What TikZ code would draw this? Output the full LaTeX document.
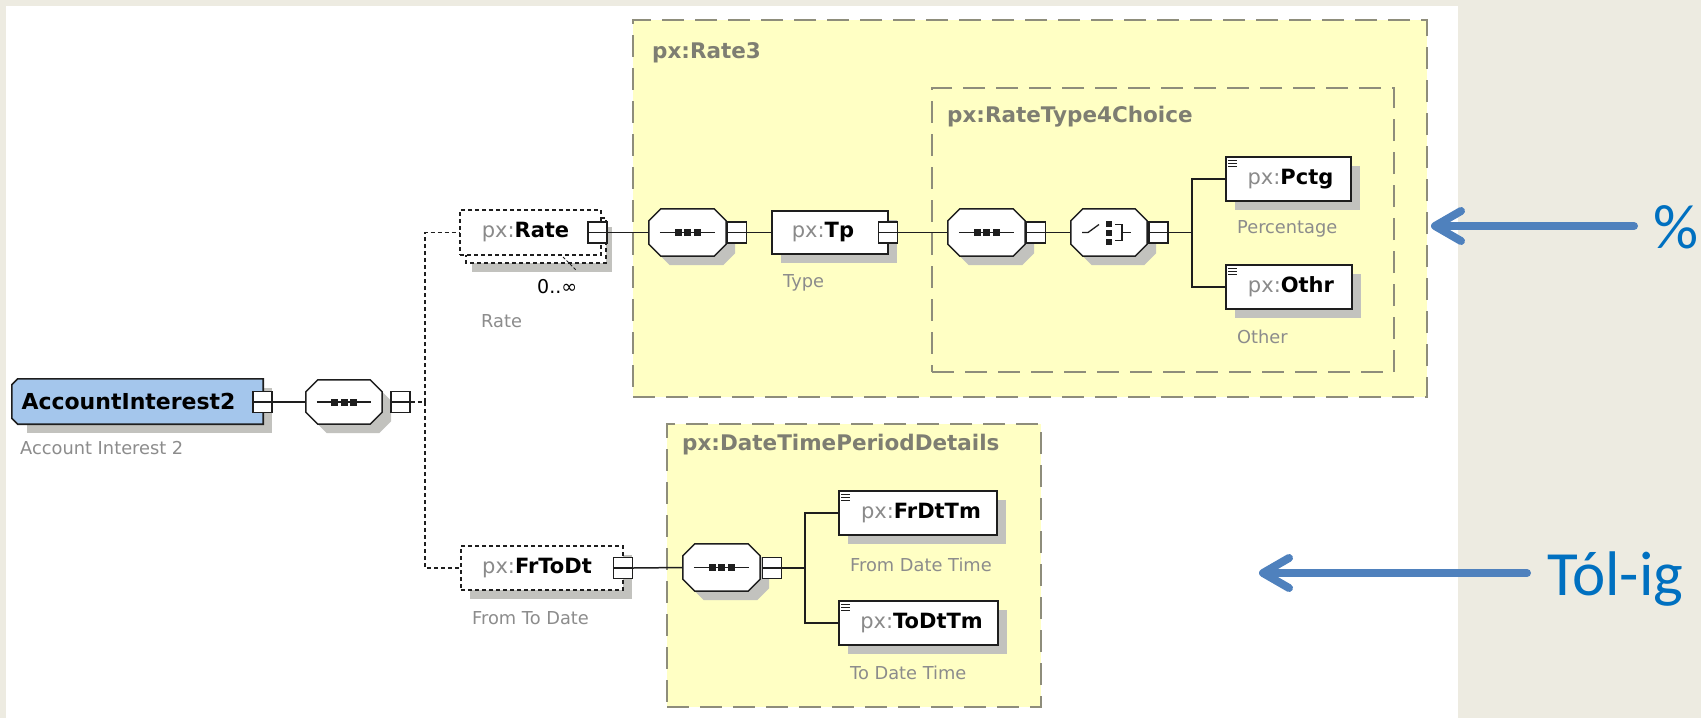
\documentclass[tikz,border=0pt]{standalone}
\usepackage{fontspec}
\setmainfont{DejaVu Sans}
\newfontfamily\calib{Carlito}
\usetikzlibrary{fit,shadows,arrows.meta,calc}
\pgfdeclarelayer{lzero}
\pgfdeclarelayer{lone}
\pgfdeclarelayer{ltwo}
\pgfsetlayers{lzero,lone,ltwo,main}

\definecolor{cbeige}{HTML}{EDEBE1}
\definecolor{cyell}{HTML}{FFFFC4}
\definecolor{cdash}{HTML}{8E8D7B}
\definecolor{clbl}{HTML}{8C8C8C}
\definecolor{cpx}{HTML}{8A8A8A}
\definecolor{ctit}{HTML}{7E7E72}
\definecolor{caiblue}{HTML}{A4C6EC}
\definecolor{carrow}{HTML}{4F81BD}
\definecolor{ctext}{HTML}{0070C0}
\definecolor{cshadow}{HTML}{C2C2BE}
\definecolor{cline}{HTML}{1E1E1E}

\newcommand\pxn[1]{{\mdseries\color{cpx}px:}#1}
\newcommand\octp[3]{([shift={(#2+12pt,#3)}]#1.north west) -- ([shift={(#2-12pt,#3)}]#1.north east) -- ([shift={(#2,#3-12pt)}]#1.north east) -- ([shift={(#2,#3+12pt)}]#1.south east) -- ([shift={(#2-12pt,#3)}]#1.south east) -- ([shift={(#2+12pt,#3)}]#1.south west) -- ([shift={(#2,#3+12pt)}]#1.south west) -- ([shift={(#2,#3-12pt)}]#1.north west) -- cycle}
\newcommand\octshape[1]{%
  \begin{pgfonlayer}{lone}\fill[cshadow] \octp{#1}{9pt}{-9pt};\end{pgfonlayer}%
  \begin{pgfonlayer}{ltwo}\filldraw[fill=white, draw=cline, line width=1.5pt] \octp{#1}{0pt}{0pt};\end{pgfonlayer}}
\newcommand\seqsym[1]{%
  \draw[line width=1.3pt, cline] ([xshift=11pt]#1.west) -- ([xshift=-11pt]#1.east);
  \foreach \d in {-9.5,0,9.5}{\fill[cline] ($(#1.center)+(\d-3.5,-3.5)$) rectangle ++(7,7);}}
\newcommand\chsym[1]{%
  \draw[line width=1.3pt, cline] ($(#1.center)+(-27,0)$) -- ++(6,0) -- ++(11,-8);
  \foreach \d in {-9,0,9}{\fill[cline] ($(#1.center)+(-3,\d-3)$) rectangle ++(6,6);}
  \draw[line width=1.3pt, cline] ($(#1.center)+(6,-8)$) -- ++(7,0) -- ++(0,16) -- ++(-7,0);
  \draw[line width=1.3pt, cline] ($(#1.center)+(13,0)$) -- ++(9,0);}
\newcommand\eicon[1]{%
  \foreach \d in {4,7,10}{\draw[line width=0.9pt, cline] ($(#1.north west)+(3,\d)$) -- ++(9,0);}}

\tikzset{
  container/.style={draw=cdash, fill=cyell, line width=1.6pt, dash pattern=on 22pt off 11pt, inner sep=0pt},
  ctitle/.style={anchor=west, inner sep=0pt, font=\fontsize{21.5}{25}\selectfont\bfseries, text=ctit},
  boxbase/.style={draw=cline, fill=white, line width=1.6pt, inner sep=0pt,
    font=\fontsize{21}{25}\selectfont\bfseries},
  shad/.style={general shadow={shadow xshift=9pt, shadow yshift=-9pt, fill=cshadow}},
  elem/.style={boxbase, shad},
  optelem/.style={elem, dash pattern=on 4pt off 3pt, line width=1.4pt},
  octnode/.style={inner sep=0pt, draw=none},
  minus/.style={draw=cline, fill=white, line width=1.2pt, minimum width=19pt, minimum height=21pt, inner sep=0pt,
    path picture={\draw[line width=1.2pt, cline] (path picture bounding box.west) -- (path picture bounding box.east);}},
  lbl/.style={anchor=west, inner sep=0pt, text=clbl, font=\fontsize{17.8}{21}\selectfont},
  conn/.style={draw=cline, line width=1.5pt},
  optconn/.style={draw=cline, line width=1.5pt, dash pattern=on 4pt off 3pt},
  bigarrow/.style={draw=carrow, line width=8pt, line cap=round,
    -{Straight Barb[length=26pt, width=30pt, round]}},
  bigtext/.style={inner sep=0pt, text=ctext, font=\calib\fontsize{63}{70}\selectfont}
}

\begin{document}
\begin{tikzpicture}[x=1pt,y=-1pt]
\useasboundingbox (0,0) rectangle (1701,718);

\begin{pgfonlayer}{lzero}
  \fill[cbeige] (0,0) rectangle (1701,718);
  \fill[white] (6,6) rectangle (1458,718);
  \node[container, fit={(633,20)(1427,397)}] (rate3) {};
  \node[container, fit={(932,88)(1394,372)}] (rtc) {};
  \node[container, fit={(667,424)(1041,707)}] (dtpd) {};
\end{pgfonlayer}
\node[ctitle] (trate3) at (652,53) {px:Rate3};
\node[ctitle] (trtc) at (947,117) {px:RateType4Choice};
\node[ctitle] (tdtpd) at (682,445) {px:DateTimePeriodDetails};

% root element
\node[inner sep=0pt, minimum width=251pt, minimum height=45pt, text width=232pt, align=left,
      font=\fontsize{22}{26}\selectfont\bfseries] (ai) at (137.5,401.5) {AccountInterest2};
\begin{pgfonlayer}{lone}
  \fill[cshadow] ([shift={(15pt,-9pt)}]ai.north west) -- ([shift={(9pt,-9pt)}]ai.north east) -- ([shift={(9pt,-9pt)}]ai.south east) -- ([shift={(15pt,-9pt)}]ai.south west) -- cycle;
\end{pgfonlayer}
\begin{pgfonlayer}{ltwo}
  \filldraw[fill=caiblue, draw=cline, line width=1.6pt] ([xshift=6pt]ai.north west) -- (ai.north east) -- (ai.south east) -- ([xshift=6pt]ai.south west) -- ([yshift=6pt]ai.south west) -- ([yshift=-6pt]ai.north west) -- cycle;
\end{pgfonlayer}
\node[minus] (aim) at (262.5,402) {};
\node[lbl] (lai) at (20,448) {Account Interest 2};

\node[octnode, fit={(306,380)(382,424)}] (s1) {};
\octshape{s1}\seqsym{s1}
\node[minus] (s1m) at (400.5,402) {};
\coordinate (jn) at (425,402);

% Rate (repeating, optional)
\begin{pgfonlayer}{ltwo}
  \draw[fill=white, draw=cline, line width=1.4pt, dash pattern=on 4pt off 3pt,
        general shadow={shadow xshift=6pt, shadow yshift=-9pt, fill=cshadow}] (466,218) rectangle (606,263);
\end{pgfonlayer}
\node[boxbase, dash pattern=on 4pt off 3pt, line width=1.4pt, minimum width=141pt, minimum height=45pt] (rate) at (530.5,232.5) {\pxn{Rate}\hspace*{10pt}};
\node[minus] (ratem) at (597.5,232.5) {};
\node[inner sep=0pt, anchor=west, font=\fontsize{19}{22}\selectfont] (occ) at (537,287) {0..∞};
\draw[line width=1pt, cline, dash pattern=on 3pt off 2pt] (563,257) -- (576,270);
\node[lbl] (lrate) at (481,321) {Rate};

\node[octnode, fit={(649,209)(726,256)}] (seqr) {};
\octshape{seqr}\seqsym{seqr}
\node[minus] (seqrm) at (737,232.5) {};

\node[elem, minimum width=116pt, minimum height=43pt] (tp) at (830,232.5) {\pxn{Tp}\hspace*{14pt}};
\node[minus] (tpm) at (888,232.5) {};
\node[lbl] (ltp) at (783,283) {Type};

\node[octnode, fit={(948,209)(1025,256)}] (seqc) {};
\octshape{seqc}\seqsym{seqc}
\node[minus] (seqcm) at (1036,232.5) {};

\node[octnode, fit={(1071,209)(1147,256)}] (ch) {};
\octshape{ch}\chsym{ch}
\node[minus] (chm) at (1158.5,232.5) {};
\coordinate (br1) at (1192,232.5);

\node[elem, minimum width=125pt, minimum height=44pt] (pctg) at (1288.5,179) {\hspace*{4pt}\pxn{Pctg}};
\eicon{pctg}
\node[lbl] (lpctg) at (1237,229) {Percentage};
\node[elem, minimum width=126pt, minimum height=44pt] (othr) at (1289,287) {\hspace*{4pt}\pxn{Othr}};
\eicon{othr}
\node[lbl] (lothr) at (1237,337) {Other};

% FrToDt
\node[optelem, minimum width=162pt, minimum height=44pt] (frto) at (542,568) {\pxn{FrToDt}\hspace*{10pt}};
\node[minus] (frtom) at (623,568) {};
\node[lbl] (lfrto) at (472,618) {From To Date};

\node[octnode, fit={(683,544)(760,591)}] (seqd) {};
\octshape{seqd}\seqsym{seqd}
\node[minus] (seqdm) at (772,568) {};
\coordinate (br2) at (805,568);

\node[elem, minimum width=158pt, minimum height=44pt] (frdt) at (918,513) {\hspace*{6pt}\pxn{FrDtTm}};
\eicon{frdt}
\node[lbl] (lfrdt) at (850,565) {From Date Time};
\node[elem, minimum width=159pt, minimum height=44pt] (todt) at (918.5,623) {\hspace*{6pt}\pxn{ToDtTm}};
\eicon{todt}
\node[lbl] (ltodt) at (850,673) {To Date Time};

% connectors
\draw[conn] (aim.east) -- (s1.west);
\draw[optconn] (s1m.east) -- (jn);
\draw[optconn] (jn) |- (rate.west);
\draw[optconn] (jn) |- (frto.west);
\draw[conn] (ratem.east) -- (seqr.west);
\draw[conn] (seqrm.east) -- (tp.west);
\draw[conn] (tpm.east) -- (seqc.west);
\draw[conn] (seqcm.east) -- (ch.west);
\draw[conn] (chm.east) -- (br1);
\draw[conn] (br1) |- (pctg.west);
\draw[conn] (br1) |- (othr.west);
\draw[conn] (frtom.east) -- (seqd.west);
\draw[conn] (seqdm.east) -- (br2);
\draw[conn] (br2) |- (frdt.west);
\draw[conn] (br2) |- (todt.west);

% annotations
\coordinate (a1s) at (1634,226);
\coordinate (a1e) at (1431,226);
\coordinate (a2s) at (1527,573);
\coordinate (a2e) at (1259,573);
\draw[bigarrow] (a1s) -- (a1e);
\draw[bigarrow] (a2s) -- (a2e);
\node[bigtext, anchor=base] (pct) at (1676,248) {\%};
\node[bigtext, anchor=base west] (tolig) at (1547,595) {Tól-ig};
\end{tikzpicture}
\end{document}
